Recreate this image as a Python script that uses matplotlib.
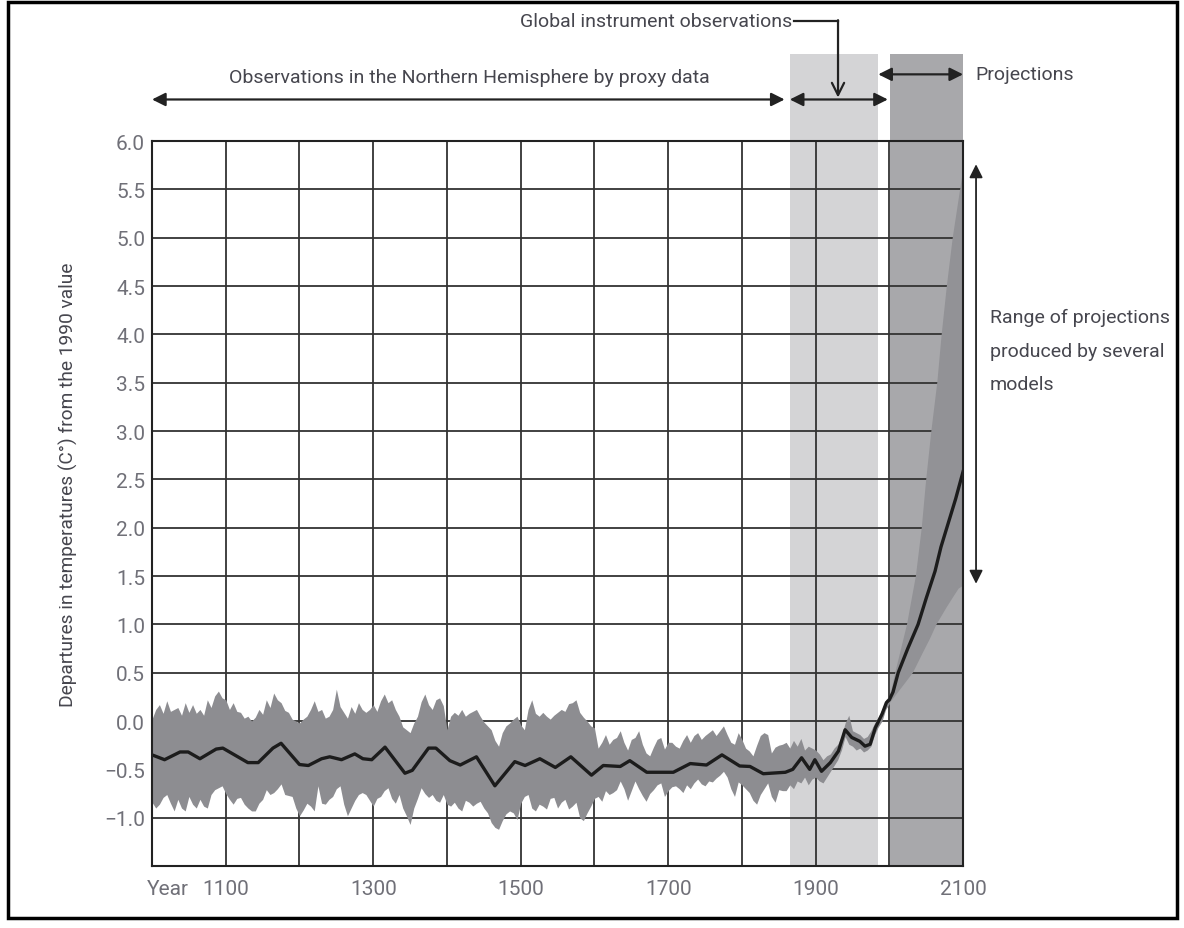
import numpy as np
import matplotlib.pyplot as plt
from matplotlib.patches import Rectangle

FONT = ["Roboto", "DejaVu Sans"]
TEXT_COLOR = "#46464e"
TICK_COLOR = "#707078"
TEXT_SIZE = 14

# uncertainty band (proxy, then instrumental), every 5 years 1000-2000
BAND_YEARS = np.arange(1000, 2001, 5)
BAND_UPPER = [
    0.02, 0.12, 0.17, 0.08, 0.21, 0.10, 0.12, 0.14, 0.06, 0.19,
    0.09, 0.17, 0.08, 0.12, 0.06, 0.22, 0.14, 0.26, 0.31, 0.24,
    0.22, 0.12, 0.19, 0.10, 0.09, 0.03, 0.05, 0.00, 0.04, 0.12,
    0.07, 0.22, 0.14, 0.29, 0.22, 0.19, 0.11, 0.09, 0.02, 0.00,
    -0.02, 0.02, 0.05, 0.12, 0.21, 0.10, 0.12, 0.03, 0.05, 0.12,
    0.33, 0.15, 0.09, 0.03, 0.15, 0.08, 0.19, 0.12, 0.09, 0.12,
    0.17, 0.10, 0.21, 0.28, 0.19, 0.22, 0.12, 0.05, -0.06, -0.09,
    -0.12, -0.02, 0.05, 0.20, 0.28, 0.17, 0.12, 0.22, 0.24, 0.16,
    -0.09, 0.05, 0.09, 0.06, 0.12, 0.05, 0.08, 0.10, 0.12, 0.05,
    -0.01, -0.05, -0.09, -0.20, -0.26, -0.12, -0.05, -0.02, 0.02, 0.05,
    -0.04, -0.09, 0.12, 0.22, 0.08, 0.05, 0.09, 0.05, 0.02, 0.06,
    0.09, 0.12, 0.10, 0.18, 0.19, 0.22, 0.09, 0.04, 0.00, -0.05,
    -0.07, -0.28, -0.22, -0.14, -0.24, -0.19, -0.17, -0.10, -0.22, -0.30,
    -0.19, -0.17, -0.10, -0.24, -0.33, -0.36, -0.27, -0.19, -0.17, -0.29,
    -0.22, -0.22, -0.26, -0.28, -0.20, -0.14, -0.22, -0.15, -0.12, -0.19,
    -0.15, -0.12, -0.09, -0.15, -0.10, -0.05, -0.14, -0.22, -0.24, -0.12,
    -0.19, -0.28, -0.31, -0.36, -0.25, -0.15, -0.12, -0.14, -0.33, -0.27,
    -0.25, -0.24, -0.22, -0.28, -0.20, -0.26, -0.18, -0.30, -0.26, -0.28,
    -0.30, -0.34, -0.40, -0.36, -0.34, -0.28, -0.24, -0.16, -0.02, 0.06,
    -0.10, -0.12, -0.14, -0.18, -0.16, -0.10, -0.02, 0.04, 0.12, 0.22,
    0.26,
]
BAND_LOWER = [
    -0.84, -0.90, -0.86, -0.79, -0.76, -0.85, -0.93, -0.81, -0.90, -0.93,
    -0.78, -0.86, -0.90, -0.81, -0.88, -0.90, -0.76, -0.71, -0.69, -0.67,
    -0.75, -0.81, -0.86, -0.80, -0.79, -0.86, -0.90, -0.93, -0.93, -0.85,
    -0.81, -0.71, -0.76, -0.74, -0.70, -0.65, -0.76, -0.77, -0.78, -0.90,
    -0.98, -0.92, -0.85, -0.88, -0.93, -0.67, -0.85, -0.86, -0.81, -0.78,
    -0.70, -0.67, -0.86, -0.98, -0.90, -0.82, -0.76, -0.74, -0.76, -0.82,
    -0.88, -0.80, -0.78, -0.72, -0.69, -0.80, -0.85, -0.76, -0.90, -0.98,
    -1.07, -0.90, -0.80, -0.69, -0.75, -0.79, -0.76, -0.82, -0.84, -0.76,
    -0.86, -0.88, -0.84, -0.90, -0.93, -0.82, -0.84, -0.88, -0.85, -0.83,
    -0.90, -0.95, -1.05, -1.10, -1.12, -1.03, -0.96, -0.93, -0.95, -1.02,
    -0.85, -0.78, -0.76, -0.90, -0.93, -0.86, -0.88, -0.91, -0.80, -0.79,
    -0.90, -0.84, -0.81, -0.91, -0.88, -0.84, -1.00, -1.03, -0.95, -0.88,
    -0.80, -0.78, -0.83, -0.72, -0.76, -0.74, -0.71, -0.62, -0.70, -0.82,
    -0.72, -0.62, -0.70, -0.77, -0.83, -0.75, -0.71, -0.66, -0.64, -0.78,
    -0.72, -0.68, -0.67, -0.70, -0.74, -0.66, -0.70, -0.64, -0.60, -0.65,
    -0.67, -0.62, -0.63, -0.59, -0.56, -0.52, -0.58, -0.70, -0.78, -0.63,
    -0.66, -0.70, -0.74, -0.82, -0.86, -0.76, -0.70, -0.64, -0.78, -0.84,
    -0.71, -0.72, -0.72, -0.66, -0.70, -0.62, -0.64, -0.58, -0.66, -0.60,
    -0.58, -0.62, -0.64, -0.58, -0.52, -0.46, -0.40, -0.30, -0.16, -0.24,
    -0.26, -0.30, -0.28, -0.32, -0.30, -0.26, -0.14, -0.06, 0.00, 0.12,
    0.18,
]

# observed (smoothed) departures
OBS_YEARS = [
    1000, 1017, 1038, 1049, 1065, 1087, 1096, 1130, 1144, 1164, 1175, 1200,
    1212, 1230, 1241, 1257, 1275, 1286, 1298, 1316, 1343, 1353, 1375, 1385,
    1404, 1418, 1440, 1465, 1492, 1506, 1526, 1547, 1568, 1596, 1612, 1635,
    1648, 1671, 1707, 1730, 1752, 1773, 1797, 1811, 1829, 1859, 1869, 1881,
    1892, 1899, 1908, 1920, 1931, 1940, 1949, 1960, 1967, 1974, 1981, 1990,
    1996, 2000,
]
OBS_VALUES = [
    -0.35, -0.40, -0.32, -0.32, -0.39, -0.29, -0.28, -0.43, -0.43, -0.28, -0.23, -0.45,
    -0.46, -0.39, -0.37, -0.40, -0.34, -0.39, -0.40, -0.27, -0.54, -0.51, -0.28, -0.28,
    -0.41, -0.455, -0.37, -0.67, -0.42, -0.46, -0.39, -0.48, -0.37, -0.56, -0.46, -0.47,
    -0.41, -0.53, -0.53, -0.44, -0.455, -0.35, -0.465, -0.47, -0.545, -0.53, -0.50, -0.38,
    -0.50, -0.40, -0.52, -0.43, -0.31, -0.09, -0.17, -0.21, -0.26, -0.24, -0.07, 0.07,
    0.19, 0.22,
]

# central projection and the spread of model projections
PROJ_YEARS = [2000, 2005, 2012, 2025, 2039, 2050, 2062, 2070, 2078, 2090, 2100]
PROJ_VALUES = [0.22, 0.30, 0.50, 0.75, 1.00, 1.27, 1.55, 1.80, 2.00, 2.30, 2.58]
HIGH_YEARS = [2000, 2008, 2024, 2036, 2044, 2050, 2057, 2065, 2071, 2078, 2086, 2096, 2100]
HIGH_VALUES = [0.22, 0.50, 1.00, 1.50, 2.00, 2.50, 3.00, 3.50, 4.00, 4.50, 5.00, 5.50, 5.70]
LOW_YEARS = [2000, 2010, 2020, 2032, 2045, 2055, 2064, 2078, 2088, 2094, 2100]
LOW_VALUES = [0.18, 0.28, 0.38, 0.50, 0.70, 0.85, 1.00, 1.18, 1.30, 1.37, 1.40]

Y_TICKS = np.arange(-1.0, 6.01, 0.5)
X_TICKS = [1022, 1100, 1300, 1500, 1700, 1900, 2100]
X_LABELS = ["Year", "1100", "1300", "1500", "1700", "1900", "2100"]


def draw_background(ax):
    top = 6.9
    ax.add_patch(Rectangle((1865, -1.5), 120, top + 1.5, color="#d4d4d6",
                           lw=0, clip_on=False, zorder=0))
    ax.add_patch(Rectangle((2001, -1.5), 99, top + 1.5, color="#a8a8ab",
                           lw=0, clip_on=False, zorder=0))
    ax.hlines(Y_TICKS, 1000, 2100, color="#333333", lw=1.3, zorder=1)
    ax.vlines(np.arange(1100, 2001, 100), -1.5, 6.0, color="#333333", lw=1.3, zorder=1)


def draw_series(ax):
    ax.fill_between(BAND_YEARS, BAND_LOWER, BAND_UPPER, color="#8d8d91", lw=0, zorder=2)
    fan_x = HIGH_YEARS + LOW_YEARS[::-1]
    fan_y = HIGH_VALUES + LOW_VALUES[::-1]
    ax.fill(fan_x, fan_y, color="#929296", lw=0, zorder=2)
    ax.plot(OBS_YEARS + PROJ_YEARS[1:], OBS_VALUES + PROJ_VALUES[1:],
            color="#1c1c1c", lw=2.4, zorder=3, solid_joinstyle="round")


def draw_annotations(ax):
    head = dict(arrowstyle="<|-|>", color="#222222", lw=1.6, mutation_scale=20,
                shrinkA=0, shrinkB=0)
    ax.annotate("", xy=(1000, 6.43), xytext=(1858, 6.43), arrowprops=head,
                annotation_clip=False)
    ax.annotate("", xy=(1865, 6.43), xytext=(1998, 6.43), arrowprops=head,
                annotation_clip=False)
    ax.annotate("", xy=(1985, 6.69), xytext=(2100, 6.69), arrowprops=head,
                annotation_clip=False)
    ax.annotate("", xy=(2117.6, 5.76), xytext=(2117.6, 1.42),
                arrowprops=dict(head, lw=1.3), annotation_clip=False)

    ax.text(1431, 6.66, "Observations in the Northern Hemisphere by proxy data",
            ha="center", va="center", fontsize=TEXT_SIZE, family=FONT, color=TEXT_COLOR)
    ax.text(1868, 7.24, "Global instrument observations", ha="right", va="center",
            fontsize=TEXT_SIZE, family=FONT, color=TEXT_COLOR, clip_on=False)
    ax.plot([1871, 1930.4], [7.24, 7.24], color="#222222", lw=1.6, clip_on=False)
    ax.annotate("", xy=(1930.4, 6.45), xytext=(1930.4, 7.25),
                arrowprops=dict(arrowstyle="->", color="#222222", lw=1.6,
                                mutation_scale=22, shrinkA=0, shrinkB=0),
                annotation_clip=False)
    ax.text(2116.5, 6.69, "Projections", ha="left", va="center",
            fontsize=TEXT_SIZE, family=FONT, color=TEXT_COLOR)
    ax.text(2136.6, 3.83, "Range of projections\nproduced by several\nmodels",
            ha="left", va="center", fontsize=TEXT_SIZE, family=FONT, color=TEXT_COLOR,
            linespacing=2.1)


def style_axes(ax):
    ax.set_xlim(1000, 2100)
    ax.set_ylim(-1.5, 6.0)
    ax.set_yticks(Y_TICKS)
    ax.set_yticklabels([f"{v:.1f}".replace("-", "\u2212") for v in Y_TICKS])
    ax.set_xticks(X_TICKS)
    ax.set_xticklabels(X_LABELS)
    ax.tick_params(length=0, labelsize=15, labelcolor=TICK_COLOR)
    ax.tick_params(axis="y", pad=5)
    ax.tick_params(axis="x", pad=9)
    for label in ax.get_xticklabels() + ax.get_yticklabels():
        label.set_family(FONT)
    for spine in ax.spines.values():
        spine.set_color("#222222")
        spine.set_linewidth(1.5)
        spine.set_zorder(4)


fig = plt.figure(figsize=(11.84, 9.29), dpi=100)
ax = fig.add_axes([0.1284, 0.0667, 0.6850, 0.7804])
draw_background(ax)
draw_series(ax)
draw_annotations(ax)
style_axes(ax)

fig.text(0.0574, 0.478, "Departures in temperatures (C\u00b0) from the 1990 value",
         rotation=90, ha="center", va="center", fontsize=13.8, family=FONT,
         color=TEXT_COLOR)
fig.patches.append(Rectangle((0.0068, 0.0108), 0.9872, 0.986, transform=fig.transFigure,
                             fill=False, lw=2.5, ec="black"))

fig.savefig("out.png", dpi=100)
